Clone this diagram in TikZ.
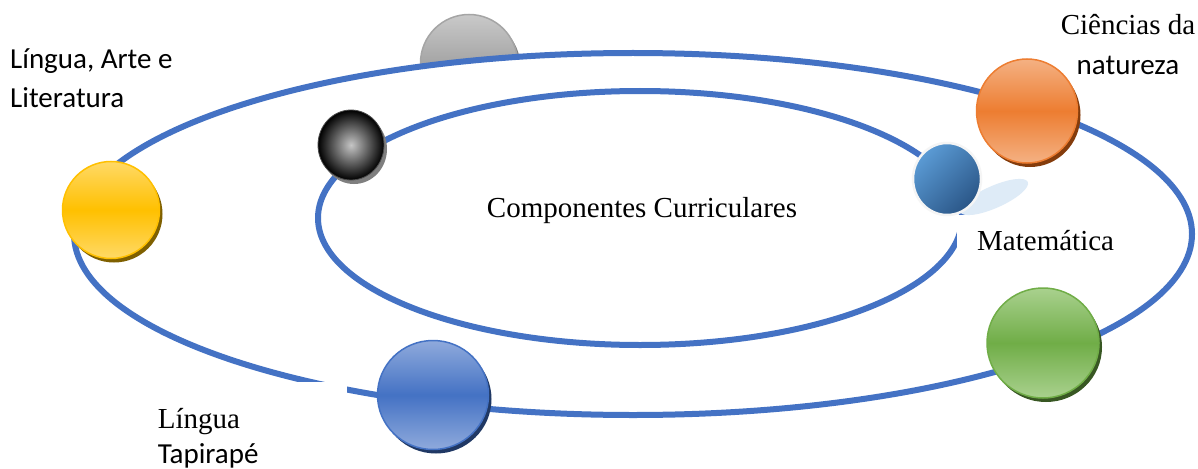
\documentclass[tikz,border=0pt]{standalone}
\usepackage{fontspec}
\setmainfont{Liberation Serif}
\newfontfamily\calfont{Carlito}
\usepackage{xcolor}
\usepackage{tikz}
\usetikzlibrary{shapes.geometric,shadows}

\definecolor{orbit}{HTML}{4472C4}
\definecolor{ouro}{HTML}{FFC000}
\definecolor{ourolight}{HTML}{FFD966}
\definecolor{ouroshadow}{HTML}{7F6000}
\definecolor{laranja}{HTML}{ED7D31}
\definecolor{laranjalight}{HTML}{F4B183}
\definecolor{laranjashadow}{HTML}{843C0C}
\definecolor{verde}{HTML}{70AD47}
\definecolor{verdelight}{HTML}{A9D18E}
\definecolor{verdeshadow}{HTML}{385723}
\definecolor{azul}{HTML}{4472C4}
\definecolor{azullight}{HTML}{8FAADC}
\definecolor{azulshadow}{HTML}{203864}
\definecolor{cinza}{HTML}{A5A5A5}
\definecolor{cinzalight}{HTML}{C9C9C9}
\definecolor{cinzashadow}{HTML}{7F7F7F}
\definecolor{ceu}{HTML}{DEEBF7}
\definecolor{mar1}{HTML}{5B9BD5}
\definecolor{mar2}{HTML}{2A5687}

\begin{document}
\begin{tikzpicture}[x=1pt, y=-1pt,
orbita/.style={draw=orbit, line width=6pt},
planeta/.style n args={3}{ellipse, inner sep=0pt, minimum width=#1pt, minimum height=#2pt,
  draw=#3, line width=1.5pt, top color=#3light, bottom color=#3light, middle color=#3,
  drop shadow={fill=#3shadow, opacity=1, shadow xshift=3pt, shadow yshift=-4pt}},
caixa/.style={fill=white, inner ysep=0pt, align=left},
serifa/.style={font=\fontsize{29}{39}\selectfont},
sans/.style={font=\calfont\fontsize{29}{39}\selectfont}
]
\useasboundingbox (0,0) rectangle (1198,468);
\node[planeta={97}{97}{cinza}] (arte) at (469,63) {};
\draw[orbita, fill=white] (633,234) ellipse [x radius=559pt, y radius=181pt];
\draw[orbita] (640,218) ellipse [x radius=322pt, y radius=127pt];
\node[caixa, serifa, anchor=north west, text width=160pt, inner xsep=20pt, text height=35pt, text depth=15pt] (mat) at (957,215) {Matemática};
\node[caixa, serifa, anchor=north east, text width=171pt, inner xsep=18pt, text height=46pt, font=\fontsize{29}{35}\selectfont] (tapi) at (347,382) {Língua\\{\calfont Tapirapé}};
\fill[ceu, rotate around={24:(994,197)}] (994,197) ellipse [x radius=37pt, y radius=11pt];
\node[planeta={97}{97}{ouro}] (ling) at (111,210) {};
\node[planeta={101}{104}{laranja}] (cien) at (1027,111) {};
\node[planeta={112}{110}{verde}] (verde) at (1043,343) {};
\node[planeta={111}{109}{azul}] (tapiball) at (433,395) {};
\node[ellipse, inner sep=0pt, minimum width=66pt, minimum height=70pt, draw=black!70, line width=0.8pt,
  inner color=gray!45, outer color=black,
  drop shadow={fill=cinzashadow, opacity=1, shadow xshift=3pt, shadow yshift=-4pt}] (preto) at (351,145) {};
\node[ellipse, inner sep=0pt, minimum width=68pt, minimum height=72pt, draw=gray!8, line width=2.5pt,
  top color=mar1, bottom color=mar2, shading angle=45] (matball) at (947,179) {};
\node[sans, anchor=base west, inner sep=0pt, align=left] (lingarte) at (10,107) {Língua, Arte e\\Literatura};
\node[serifa, anchor=base, inner sep=0pt, align=center, font=\fontsize{29}{40}\selectfont] (natu) at (1128,75) {Ciências da\\{\calfont natureza}};
\node[serifa, anchor=base, inner sep=0pt] (comp) at (642,217) {Componentes Curriculares};
\end{tikzpicture}
\end{document}
